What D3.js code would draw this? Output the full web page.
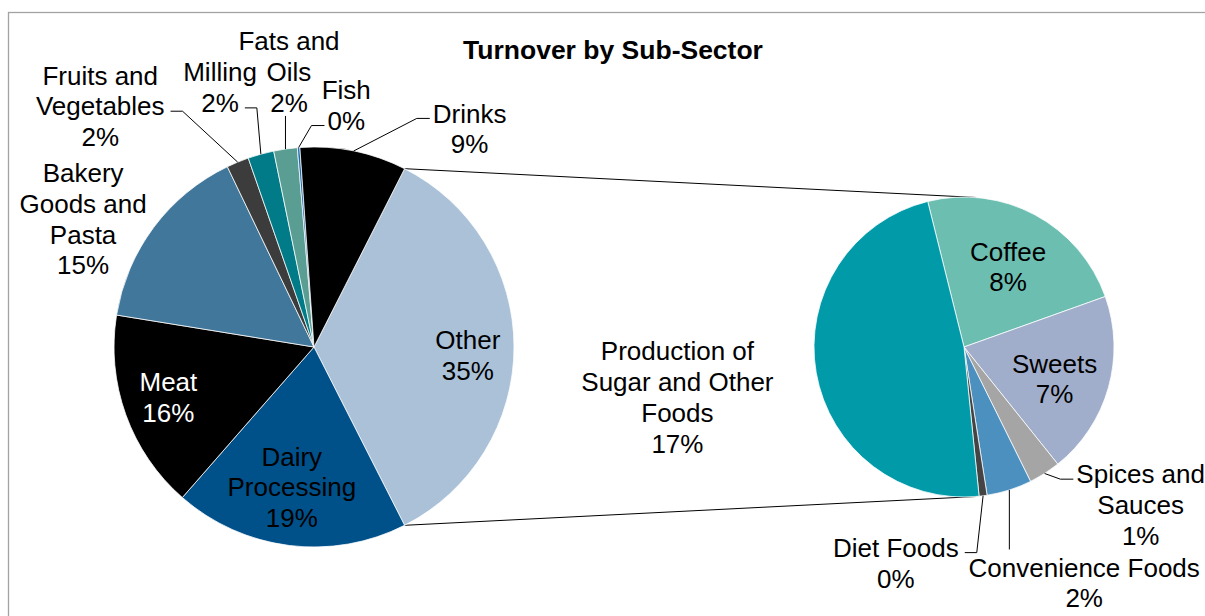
<!DOCTYPE html>
<html>
<head>
<meta charset="utf-8">
<script src="https://cdn.jsdelivr.net/npm/d3@7"></script>
<style>
  body { margin: 0; background: #fff; }
  svg { display: block; font-family: "Liberation Sans", Arial, sans-serif; }
</style>
</head>
<body>
<svg id="chart" width="1205" height="616"></svg>
<script>
// first pie, clockwise after the aggregated "Other" slice
var mainNames = ["Dairy\nProcessing", "Meat", "Bakery\nGoods and\nPasta", "Fruits and\nVegetables", "Milling", "Fats and\nOils", "Fish", "Drinks"];
var mainValues = [18.9, 16.1, 15.3, 1.8, 2.1, 1.9, 0.2, 8.6];
// second pie (breakdown of "Other"), clockwise
var subNames = ["Coffee", "Sweets", "Spices and\nSauces", "Convenience Foods", "Diet Foods", "Production of\nSugar and Other\nFoods"];
var subValues = [8.2, 6.9, 1.2, 1.7, 0.3, 16.7];
var otherName = "Other";
var title = "Turnover by Sub-Sector";

var mainColors = ["#aac1d8", "#00508a", "#000000", "#41779b", "#3c3c3c", "#007b87", "#5a9e93", "#1e6bb0", "#000000"];
var subColors = ["#6cbeb1", "#a1aecb", "#a5a5a5", "#4b90bf", "#444444", "#009aa8"];
var whiteText = { "Meat": true };

// label placement: angle (deg, clockwise from top), distance in radii, leader side
var placeMain = {
  "Other": { a: 93, r: 0.77 },
  "Dairy\nProcessing": { a: 189, r: 0.71 },
  "Meat": { a: 251, r: 0.77 },
  "Bakery\nGoods and\nPasta": { a: 299, r: 1.32 },
  "Fruits and\nVegetables": { a: 318.4, r: 1.61, lead: "left", line: 1 },
  "Milling": { a: 340.1, r: 1.38, lead: "left", line: 1 },
  "Fats and\nOils": { a: 354.8, r: 1.38, lead: "up" },
  "Fish": { a: 7.6, r: 1.22, lead: "right", line: 1 },
  "Drinks": { a: 35.5, r: 1.34, lead: "right", line: 0 }
};
var placeSub = {
  "Coffee": { a: 28.8, r: 0.61 },
  "Sweets": { a: 109.4, r: 0.64 },
  "Spices and\nSauces": { a: 131.8, r: 1.58, lead: "right", line: 0 },
  "Convenience Foods": { a: 153, r: 1.765, lead: "down" },
  "Diet Foods": { a: 197.5, r: 1.51, lead: "left", line: 0 },
  "Production of\nSugar and Other\nFoods": { a: 260, r: 1.94 }
};

var svg = d3.select("#chart");
var fontSize = 26, lineH = 30.8;
var cy = 347, cx1 = 314, r1 = 200, cx2 = 964, r2 = 150;
var rad = Math.PI / 180;

var otherValue = d3.sum(subValues);
var total = otherValue + d3.sum(mainValues);
var mainData = [{ name: otherName, value: otherValue }].concat(mainNames.map(function(n, i) { return { name: n, value: mainValues[i] }; }));
var subData = subNames.map(function(n, i) { return { name: n, value: subValues[i] }; });

function pt(cx, r, a) { return [cx + r * Math.sin(a), cy - r * Math.cos(a)]; }
function pct(v) { return Math.round(v / total * 100) + "%"; }

svg.append("rect")
  .attr("x", 8.5).attr("y", 12.5).attr("width", 1300).attr("height", 700)
  .attr("fill", "none").attr("stroke", "#a3a3a3").attr("stroke-width", 1.3);

svg.append("text")
  .attr("x", 613).attr("y", 50).attr("dy", "0.35em")
  .attr("text-anchor", "middle").attr("font-size", 26.5).attr("font-weight", "bold")
  .text(title);

var otherSpan = 2 * Math.PI * otherValue / total;
var mainStart = Math.PI / 2 - otherSpan / 2;
var pieMain = d3.pie().sort(null).value(function(d) { return d.value; })
  .startAngle(mainStart).endAngle(mainStart + 2 * Math.PI);
var subStart = -14 * rad;
var pieSub = d3.pie().sort(null).value(function(d) { return d.value; })
  .startAngle(subStart).endAngle(subStart + 2 * Math.PI);

var arcsMain = pieMain(mainData);
var arcsSub = pieSub(subData);

// connector lines between the "Other" slice and the second pie
var tang = Math.asin((r1 - r2) / (cx2 - cx1));
var o = arcsMain[0];
var conn = [[pt(cx1, r1, o.startAngle), pt(cx2, r2, tang)], [pt(cx1, r1, o.endAngle), pt(cx2, r2, Math.PI - tang)]];
svg.selectAll(".conn").data(conn).enter().append("line")
  .attr("x1", function(d) { return d[0][0]; }).attr("y1", function(d) { return d[0][1]; })
  .attr("x2", function(d) { return d[1][0]; }).attr("y2", function(d) { return d[1][1]; })
  .attr("stroke", "#000").attr("stroke-width", 1);

function drawPie(arcs, cx, r, colors, place) {
  var arc = d3.arc().innerRadius(0).outerRadius(r);
  var g = svg.append("g").attr("transform", "translate(" + cx + "," + cy + ")");
  g.selectAll("path").data(arcs).enter().append("path")
    .attr("d", arc)
    .attr("fill", function(d, i) { return colors[i]; })
    .attr("stroke", "#fff").attr("stroke-width", 0.75);

  arcs.forEach(function(d) {
    var p = place[d.data.name];
    var lines = d.data.name.split("\n").concat([pct(d.data.value)]);
    var c = pt(cx, r * p.r, p.a * rad);
    var t = svg.append("text")
      .attr("text-anchor", "middle").attr("font-size", fontSize)
      .attr("fill", whiteText[d.data.name] ? "#fff" : "#000");
    var ys = lines.map(function(l, i) { return c[1] + (i - (lines.length - 1) / 2) * lineH; });
    var spans = lines.map(function(l, i) {
      return t.append("tspan").attr("x", c[0]).attr("y", ys[i]).attr("dy", "0.35em").text(l);
    });
    if (!p.lead) return;
    var mid = (d.startAngle + d.endAngle) / 2;
    var s = pt(cx, r, mid);
    var path;
    if (p.lead === "left" || p.lead === "right") {
      var w = spans[p.line].node().getComputedTextLength();
      var y = ys[p.line] + 5;
      var ex = p.lead === "left" ? c[0] + w / 2 + 6 : c[0] - w / 2 - 3;
      var kx = p.lead === "left" ? ex + 12 : ex - 13;
      path = [s, [kx, y], [ex, y]];
    } else if (p.lead === "up") {
      path = [s, [s[0], ys[ys.length - 1] + 13]];
    } else {
      path = [s, [s[0], ys[0] - 18]];
    }
    svg.append("path").attr("d", d3.line()(path))
      .attr("fill", "none").attr("stroke", "#000").attr("stroke-width", 1);
  });
}

drawPie(arcsMain, cx1, r1, mainColors, placeMain);
drawPie(arcsSub, cx2, r2, subColors, placeSub);
</script>
</body>
</html>
